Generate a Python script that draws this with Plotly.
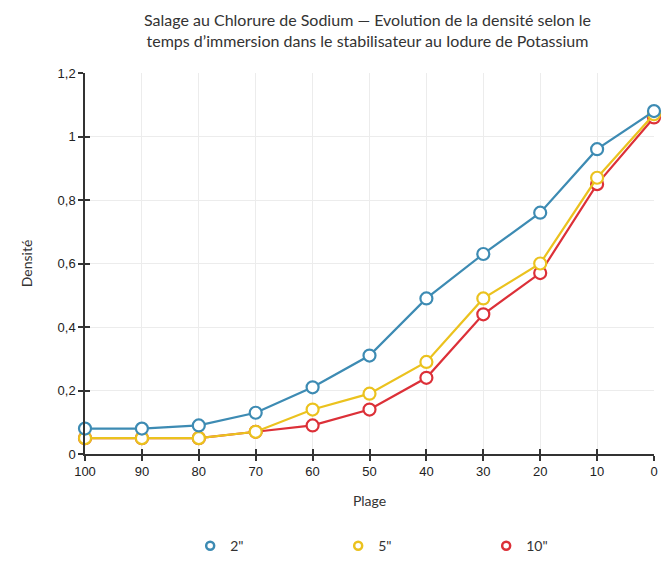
import plotly.graph_objects as go

# Plage values (x) and measured densities per immersion time
plage = [100, 90, 80, 70, 60, 50, 40, 30, 20, 10, 0]
densite_2s = [0.08, 0.08, 0.09, 0.13, 0.21, 0.31, 0.49, 0.63, 0.76, 0.96, 1.08]
densite_5s = [0.05, 0.05, 0.05, 0.07, 0.14, 0.19, 0.29, 0.49, 0.60, 0.87, 1.07]
densite_10s = [0.05, 0.05, 0.05, 0.07, 0.09, 0.14, 0.24, 0.44, 0.57, 0.85, 1.06]
series_names = ['2"', '5"', '10"']
colors = ["#3d8bb3", "#ebc21e", "#dc3038"]

fig = go.Figure()

# Curves (drawn red first so blue ends up on top)
for name, ys, col in reversed(list(zip(series_names, [densite_2s, densite_5s, densite_10s], colors))):
    fig.add_trace(go.Scatter(
        x=plage, y=ys, mode="lines+markers", name=name, showlegend=False,
        line=dict(color=col, width=2.2),
        marker=dict(symbol="circle", size=12, color="white", line=dict(color=col, width=2.2)),
        cliponaxis=False,
    ))

# Legend entries: marker only
for name, col in zip(series_names, colors):
    fig.add_trace(go.Scatter(
        x=[None], y=[None], mode="markers", name=name,
        marker=dict(symbol="circle", size=8, color="white", line=dict(color=col, width=2.5)),
    ))

# Inner tick marks on a twin axis so ticks cross the axis lines
fig.add_trace(go.Scatter(x=[None], y=[None], xaxis="x2", yaxis="y2", showlegend=False))

font_main = "Lato, Liberation Sans, sans-serif"
axis_col = "#333333"

fig.update_layout(
    width=667, height=562,
    margin=dict(l=85, r=13, t=73, b=108, autoexpand=False),
    paper_bgcolor="white", plot_bgcolor="white",
    separators=", ",
    xaxis=dict(
        range=[100, 0], tickvals=plage, ticks="outside", ticklen=5, tickwidth=1.5,
        tickcolor=axis_col, showline=True, linecolor=axis_col, linewidth=1.5,
        showgrid=True, gridcolor="#ececec", gridwidth=1, zeroline=False,
        tickfont=dict(family="Liberation Sans, Arial, sans-serif", size=13, color="#222222"),
        title=dict(text="Plage", font=dict(family=font_main, size=14, color="#333333"), standoff=18),
    ),
    yaxis=dict(
        range=[0, 1.2], dtick=0.2, ticks="outside", ticklen=5, tickwidth=1.5,
        tickcolor=axis_col, showline=True, linecolor=axis_col, linewidth=1.5,
        showgrid=True, gridcolor="#ececec", gridwidth=1, zeroline=False,
        tickfont=dict(family="Liberation Sans, Arial, sans-serif", size=13, color="#222222"),
        title=dict(text="Densité", font=dict(family=font_main, size=14, color="#333333"), standoff=22),
    ),
    xaxis2=dict(
        overlaying="x", range=[100, 0], tickvals=plage, ticks="inside", ticklen=5, tickwidth=1.5,
        tickcolor=axis_col, showticklabels=False, showgrid=False, zeroline=False, side="bottom",
        anchor="y2",
    ),
    yaxis2=dict(
        overlaying="y", range=[0, 1.2], dtick=0.2, ticks="inside", ticklen=5, tickwidth=1.5,
        tickcolor=axis_col, showticklabels=False, showgrid=False, zeroline=False, side="left",
        anchor="x2",
    ),
    legend=dict(
        orientation="h", x=0.575, xanchor="center", y=-0.2, yanchor="top",
        entrywidth=103, entrywidthmode="pixels",
        font=dict(family=font_main, size=14, color="#333333"),
        itemwidth=30,
    ),
    annotations=[dict(
        text="Salage au Chlorure de Sodium — Evolution de la densité selon le<br>temps d’immersion dans le stabilisateur au Iodure de Potassium",
        xref="paper", yref="paper", x=0.4965, y=1.113, xanchor="center", yanchor="middle",
        showarrow=False, align="center",
        font=dict(family=font_main, size=16, color="#333333"),
    )],
)

fig.write_html("out.html")
